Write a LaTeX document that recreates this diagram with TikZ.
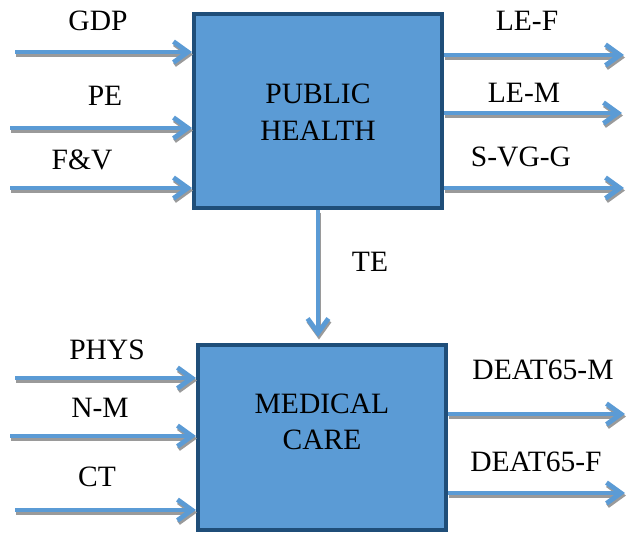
\documentclass[tikz,border=0pt]{standalone}
\usepackage{fontspec}
\setmainfont{Liberation Serif}
\usetikzlibrary{arrows.meta}
\definecolor{boxblue}{HTML}{5B9BD5}
\definecolor{boxedge}{HTML}{1F4E79}
\definecolor{shadegray}{HTML}{9A9A9A}
\tikzset{
  block/.style={draw=boxedge,line width=0.1cm,fill=boxblue,minimum width=6.2cm},
  lbl/.style={font=\fontsize{21}{26}\selectfont,align=center},
  flowtip/.style={-{Straight Barb[length=0.36cm,width=0.52cm]},line width=0.12cm,line cap=butt},
}
% arrow with a grey shadow under it
\newcommand{\flowarrow}[2]{%
  \draw[flowtip,shadegray] ([shift={(1,2.5)}]#1) -- ([shift={(1,2.5)}]#2);
  \draw[flowtip,boxblue] (#1) -- (#2);}
\begin{document}
\begin{tikzpicture}[x=0.025cm,y=-0.025cm]
    \useasboundingbox (0,0) rectangle (626,534);
    % boxes
    \node[block,minimum height=4.85cm] (ph) at (318,111) {};
    \node[block,minimum height=4.625cm] (mc) at (322,437.5) {};
    \node[lbl] (pht) at (318,112) {PUBLIC\\HEALTH};
    \node[lbl] (mct) at (322,422) {MEDICAL\\CARE};
    % public health inputs
    \coordinate (gdp) at (15,52);
    \coordinate (pe) at (10,128);
    \coordinate (fv) at (10,188);
    \flowarrow{gdp}{ph.west |- gdp}
    \flowarrow{pe}{ph.west |- pe}
    \flowarrow{fv}{ph.west |- fv}
    \node[lbl] (gdpl) at (98,21) {GDP};
    \node[lbl] (pel) at (105,96) {PE};
    \node[lbl] (fvl) at (82,160) {F\&V};
    % public health outputs
    \coordinate (lef) at (624,55);
    \coordinate (lem) at (622,113);
    \coordinate (svg) at (624,188);
    \flowarrow{ph.east |- lef}{lef}
    \flowarrow{ph.east |- lem}{lem}
    \flowarrow{ph.east |- svg}{svg}
    \node[lbl] (lefl) at (527,21) {LE-F};
    \node[lbl] (leml) at (524,93) {LE-M};
    \node[lbl] (svgl) at (521,157) {S-VG-G};
    % link
    \coordinate (te) at (318,337);
    \flowarrow{ph.south}{te}
    \node[lbl] (tel) at (370,262) {TE};
    % medical care inputs
    \coordinate (phys) at (15,378);
    \coordinate (nm) at (10,436);
    \coordinate (ct) at (15,510);
    \flowarrow{phys}{mc.west |- phys}
    \flowarrow{nm}{mc.west |- nm}
    \flowarrow{ct}{mc.west |- ct}
    \node[lbl] (physl) at (107,350) {PHYS};
    \node[lbl] (nml) at (100,408) {N-M};
    \node[lbl] (ctl) at (97,477) {CT};
    % medical care outputs
    \coordinate (dm) at (625,414);
    \coordinate (df) at (625,493);
    \flowarrow{mc.east |- dm}{dm}
    \flowarrow{mc.east |- df}{df}
    \node[lbl] (dml) at (543,370) {DEAT65-M};
    \node[lbl] (dfl) at (536,462) {DEAT65-F};
\end{tikzpicture}
\end{document}
